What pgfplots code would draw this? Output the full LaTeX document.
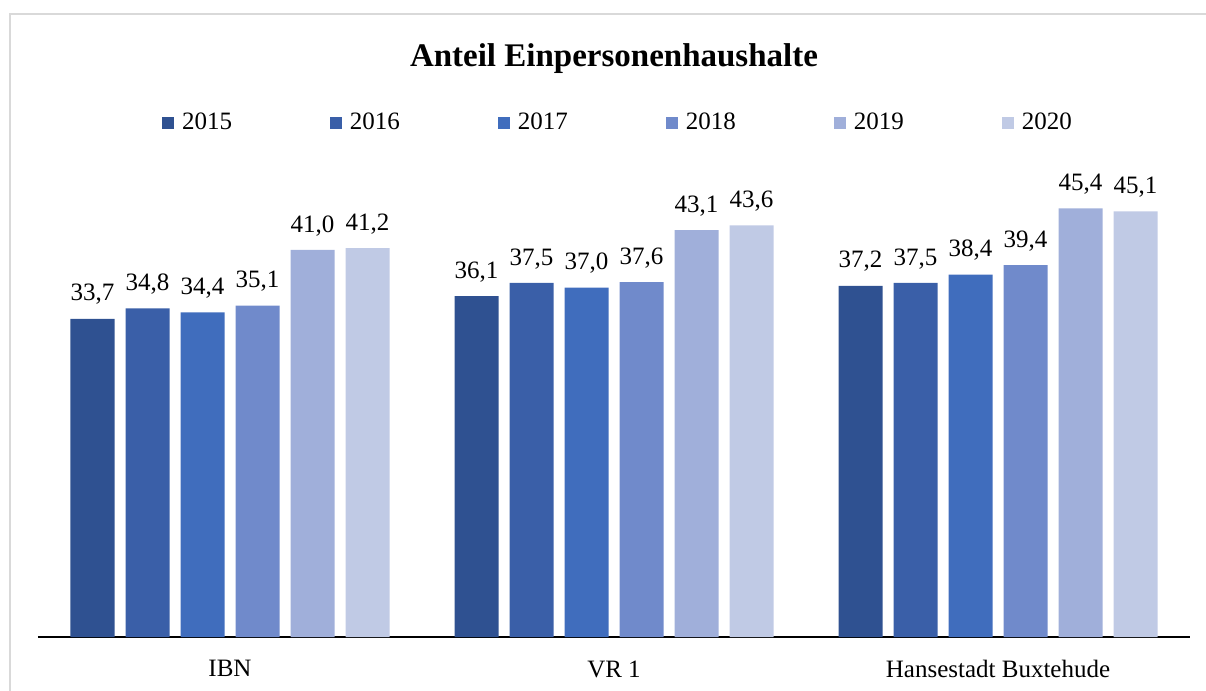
\documentclass[border=0pt]{standalone}
\usepackage{fontspec}
\setmainfont{Liberation Serif}
\usepackage{pgfplots}
\pgfplotsset{compat=1.18}
\definecolor{c15}{HTML}{2F5191}
\definecolor{c16}{HTML}{3A5FA8}
\definecolor{c17}{HTML}{406DBD}
\definecolor{c18}{HTML}{708ACB}
\definecolor{c19}{HTML}{A0AFDA}
\definecolor{c20}{HTML}{C0CAE5}
\definecolor{frame}{HTML}{D9D9D9}
\begin{document}
\begin{tikzpicture}
\path[use as bounding box] (-19pt,-27pt) rectangle (584pt,318.5pt);
\draw[frame, line width=1pt] (-14pt,-30pt) -- (-14pt,311.5pt) -- (590pt,311.5pt);
\begin{axis}[
  at={(0,0)}, anchor=south west,
  scale only axis, width=576pt, height=236pt,
  ymin=0, ymax=50,
  xmin=-0.5, xmax=2.5,
  axis y line=none,
  axis x line*=bottom,
  x axis line style={line width=1pt, black, -},
  xtick={0,1,2},
  xticklabels={IBN, VR 1, Hansestadt Buxtehude},
  xtick style={draw=none},
  xticklabel style={font=\fontsize{12.5}{14}\selectfont, yshift=-4pt},
  ybar=5.5pt, bar width=22pt,
  nodes near coords,
  every node near coord/.append style={font=\fontsize{12.5}{14}\selectfont, text=black, yshift=3.5pt},
  /pgf/number format/.cd, fixed, fixed zerofill, precision=1, use comma, assume math mode=true,
  /pgfplots/.cd,
  legend style={at={(0.5,1.089)}, anchor=center, xshift=2.5pt, draw=none, fill=none,
    legend columns=6, font=\fontsize{12.5}{14}\selectfont,
    /tikz/every even column/.append style={column sep=47pt},
    legend cell align=left},
  legend image code/.code={\fill[#1] (0pt,-3pt) rectangle (6pt,3pt);},
  legend style={/tikz/every odd column/.append style={column sep=2pt}},
  clip=false,
]
\addplot[fill=c15, draw=none] coordinates {(0,33.7) (1,36.1) (2,37.2)};
\addplot[fill=c16, draw=none] coordinates {(0,34.8) (1,37.5) (2,37.5)};
\addplot[fill=c17, draw=none] coordinates {(0,34.4) (1,37.0) (2,38.4)};
\addplot[fill=c18, draw=none] coordinates {(0,35.1) (1,37.6) (2,39.4)};
\addplot[fill=c19, draw=none] coordinates {(0,41.0) (1,43.1) (2,45.4)};
\addplot[fill=c20, draw=none] coordinates {(0,41.2) (1,43.6) (2,45.1)};
\legend{2015,2016,2017,2018,2019,2020}
\node[font=\bfseries\fontsize{16.5}{19}\selectfont] at (rel axis cs:0.5,1.226) {Anteil Einpersonenhaushalte};
\end{axis}
\end{tikzpicture}
\end{document}
